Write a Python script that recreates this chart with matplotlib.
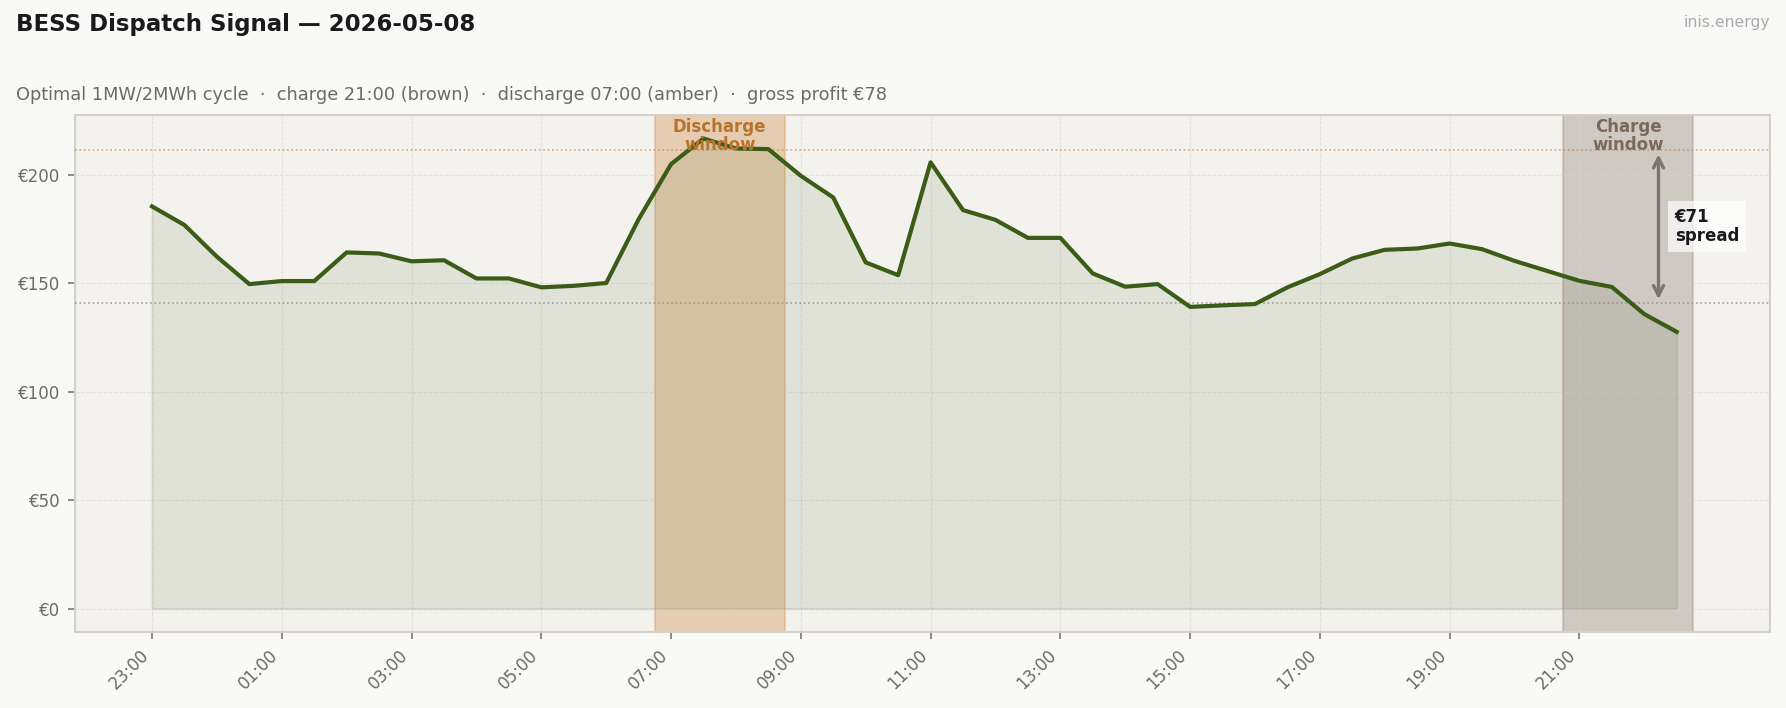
import numpy as np
import pandas as pd
import matplotlib
matplotlib.use("Agg")
import matplotlib.pyplot as plt

# Half-hourly day-ahead price (EUR/MWh), starting 23:00 the evening before
times = pd.date_range("2026-05-07 23:00", periods=48, freq="30min")
prices = [185.3, 176.7, 162.1, 149.5, 150.9, 150.9, 164.1, 163.6,
          160.0, 160.5, 152.1, 152.1, 148.0, 148.7, 150.0, 179.4,
          204.8, 216.6, 212.0, 211.7, 199.4, 189.4, 159.5, 153.6,
          205.6, 183.6, 179.1, 170.8, 170.8, 154.4, 148.3, 149.5,
          139.0, 139.7, 140.3, 148.0, 154.1, 161.3, 165.3, 165.9,
          168.2, 165.6, 160.2, 155.6, 151.0, 148.2, 135.7, 127.5]

# Dispatch schedule (2h windows, 4 half-hour slots)
charge_start = "21:00"
discharge_start = "07:00"
slots = 4
gross_profit = 78

# Colours
bg = "#f9f9f7"
panel = "#f3f2ee"
green = "#3b5c17"
amber = "#c8782a"
brown = "#7d6d60"
grey = "#6e6a66"

x = ((times - times[0]) / pd.Timedelta("1h")).values
y = np.array(prices)
labels = times.strftime("%H:%M")

ci = list(labels).index(charge_start)
di = list(labels).index(discharge_start)
charge_avg = y[ci:ci + slots].mean()
dis_avg = y[di:di + slots].mean()
spread = dis_avg - charge_avg

fig = plt.figure(figsize=(1786 / 150, 708 / 150), dpi=150, facecolor=bg)
ax = fig.add_axes([0.042, 0.1073, 0.949, 0.7303])
ax.set_facecolor(panel)

# windows
for idx, col, txt, tcol in [(di, amber, "Discharge\nwindow", "#b8732e"),
                            (ci, brown, "Charge\nwindow", "#7a6a5c")]:
    x0 = x[idx] - 0.25
    x1 = x0 + slots * 0.5
    ax.axvspan(x0, x1, color=col, alpha=0.3, lw=0, zorder=1)
    ax.axvspan(x0, x1, facecolor="none", edgecolor=col, alpha=0.25, lw=1.0, zorder=1)
    ax.text((x0 + x1) / 2, 0.995, txt, transform=ax.get_xaxis_transform(),
            ha="center", va="top", fontsize=8, fontweight="bold", color=tcol,
            linespacing=1.05, zorder=5)

ax.fill_between(x, 0, y, color=green, alpha=0.1, zorder=2)
ax.plot(x, y, color=green, lw=2.0, zorder=4)

ax.axhline(dis_avg, color=amber, ls=":", lw=0.8, alpha=0.6, zorder=3)
ax.axhline(charge_avg, color="#948d84", ls=":", lw=0.8, alpha=0.8, zorder=3)

# spread arrow
ax_x = x[-1] - 0.28
ax.annotate("", xy=(ax_x, dis_avg), xytext=(ax_x, charge_avg),
            arrowprops=dict(arrowstyle="<->", color="#7a7570", lw=1.6,
                            mutation_scale=12), zorder=5)
ax.text(ax_x + 0.25, (dis_avg + charge_avg) / 2, f"€{spread:.0f}\nspread",
        ha="left", va="center", fontsize=8, fontweight="bold", color="#1a1a1a",
        linespacing=1.1,
        bbox=dict(boxstyle="square,pad=0.4", facecolor="white", edgecolor="none",
                  alpha=0.7), zorder=6)

ax.set_xticks(x[::4])
ax.set_xticklabels(labels[::4], rotation=45, ha="right")
ax.set_yticks([0, 50, 100, 150, 200])
ax.set_yticklabels([f"€{v}" for v in [0, 50, 100, 150, 200]])
ax.tick_params(colors="#7a7570", labelcolor=grey, labelsize=8, length=3.5)
ax.grid(True, ls="--", lw=0.5, color="#d8d4cc", alpha=0.55)
for s in ax.spines.values():
    s.set_color("#d4d0c8")
    s.set_linewidth(1.0)

fig.text(0.009, 0.9566, "BESS Dispatch Signal — 2026-05-08", fontsize=11,
         fontweight="bold", color="#1a1a1a", va="baseline")
fig.text(0.009, 0.8588,
         f"Optimal 1MW/2MWh cycle  ·  charge {charge_start} (brown)  ·  "
         f"discharge {discharge_start} (amber)  ·  gross profit €{gross_profit}",
         fontsize=8.5, color=grey, va="baseline")
fig.text(0.991, 0.962, "inis.energy", fontsize=7.5, color="#aaaaaa",
         ha="right", va="baseline")

fig.savefig("out.png", dpi=150, facecolor=bg)
